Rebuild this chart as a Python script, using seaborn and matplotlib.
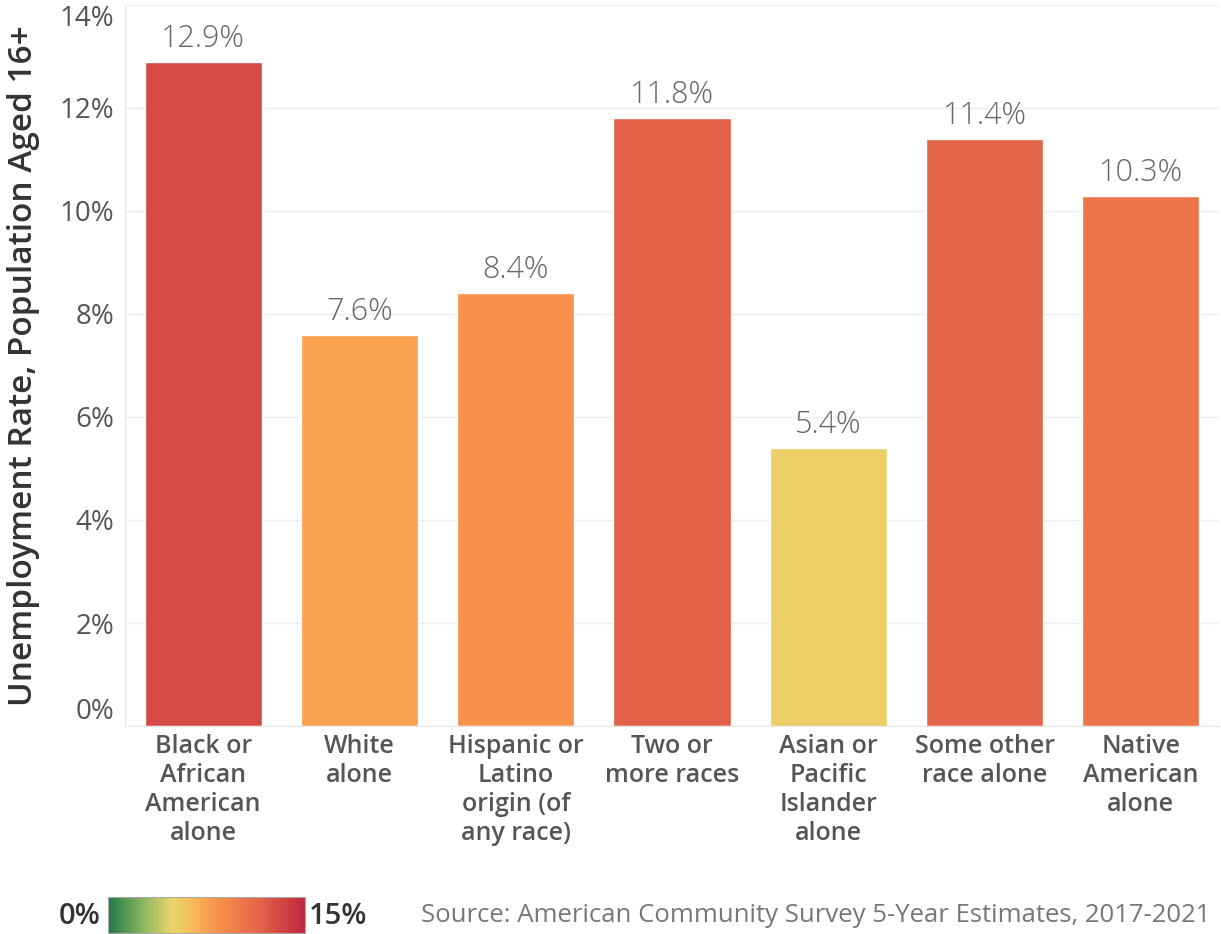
import numpy as np
import matplotlib
matplotlib.use('Agg')
import matplotlib.pyplot as plt
import seaborn as sns
from matplotlib.colors import LinearSegmentedColormap, Normalize

categories = ['Black or\nAfrican\nAmerican\nalone', 'White\nalone',
              'Hispanic or\nLatino\norigin (of\nany race)', 'Two or\nmore races',
              'Asian or\nPacific\nIslander\nalone', 'Some other\nrace alone',
              'Native\nAmerican\nalone']
rates = [12.9, 7.6, 8.4, 11.8, 5.4, 11.4, 10.3]
yticks = [0, 2, 4, 6, 8, 10, 12, 14]
source = 'Source: American Community Survey 5-Year Estimates, 2017-2021'

sns.set_style('white')
plt.rcParams['font.family'] = ['Open Sans', 'DejaVu Sans']

# colour scale 0..15 %, green -> yellow -> orange -> red
stops = [(0.0, '#1e7b48'), (0.2, '#9bbd62'), (0.33, '#efd46a'), (0.36, '#ebcf66'),
         (0.44, '#fbb75a'), (0.5, '#f9a251'), (0.56, '#f8924c'), (0.69, '#ec754a'),
         (0.76, '#e4664a'), (0.79, '#e26048'), (0.86, '#d64b45'), (1.0, '#c1273e')]
cmap = LinearSegmentedColormap.from_list('unemp', stops)
norm = Normalize(0, 15)
colors = [cmap(norm(v)) for v in rates]

W, H = 1221, 934
fig = plt.figure(figsize=(W / 100, H / 100), dpi=100)
ax = fig.add_axes([125 / W, 1 - 726 / H, 1094 / W, 721 / H])

sns.barplot(x=categories, y=rates, hue=categories, palette=colors, legend=False,
            width=0.75, saturation=1, ax=ax)

ax.set_ylim(0, 14)
ax.set_xlim(-0.5, len(rates) - 0.5)
ax.set_yticks(yticks)
ax.set_yticklabels([f'{t}%' for t in yticks], fontsize=20, color='#555555')
ticklabels = ax.get_yticklabels()
ticklabels[0].set_va('bottom')
ticklabels[-1].set_va('top')
ax.yaxis.grid(True, color='#eeeeee', lw=1)
ax.set_axisbelow(True)
ax.tick_params(axis='y', length=0, pad=8)
ax.tick_params(axis='x', length=0, pad=6)
for lbl in ax.get_xticklabels():
    lbl.set_fontsize(18)
    lbl.set_color('#555555')
    lbl.set_fontweight('semibold')
    lbl.set_linespacing(1.2)

for side in ['top', 'right']:
    ax.spines[side].set_visible(False)
for side in ['left', 'bottom']:
    ax.spines[side].set_color('#e6e6e6')

for c in ax.containers:
    ax.bar_label(c, fmt='%.1f%%', padding=5, fontsize=22, color='#666666',
                 fontweight='light')

ax.set_xlabel('')
ax.set_ylabel('Unemployment Rate, Population Aged 16+', fontsize=24,
              color='#333333', fontweight='semibold', labelpad=14)

# colour legend
cax = fig.add_axes([108 / W, 1 / H, 197 / W, 36 / H])
grad = np.linspace(0, 15, 256).reshape(1, -1)
cax.imshow(grad, aspect='auto', cmap=cmap, norm=norm, extent=[0, 15, 0, 1])
cax.set_xticks([])
cax.set_yticks([])
for s in cax.spines.values():
    s.set_color('#aaaaaa')
ty = 1 - 916 / H
fig.text(101 / W, ty, '0%', ha='right', va='center', fontsize=21,
         color='#333333', fontweight='semibold')
fig.text(309 / W, ty, '15%', ha='left', va='center', fontsize=21,
         color='#333333', fontweight='semibold')
fig.text(1210 / W, ty, source, ha='right', va='center', fontsize=18.5,
         color='#777777')

fig.savefig('out.png', dpi=100)
